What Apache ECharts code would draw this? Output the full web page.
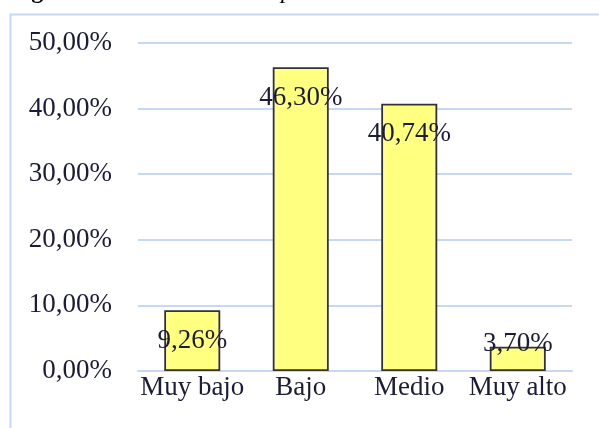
<!DOCTYPE html>
<html>
<head>
<meta charset="utf-8">
<script src="https://cdn.jsdelivr.net/npm/echarts@6/dist/echarts.min.js"></script>
<style>
html,body{margin:0;padding:0;background:#fff;}
#c{width:599px;height:428px;}
</style>
</head>
<body>
<div id="c"></div>
<script>
var categories = ['Muy bajo', 'Bajo', 'Medio', 'Muy alto'];
var values = [9.26, 46.30, 40.74, 3.70];
var yTicks = [0, 10, 20, 30, 40, 50];

var chart = echarts.init(document.getElementById('c'));
var fmt = function (v) { return v.toFixed(2).replace('.', ',') + '%'; };
var txt = '#1c1c36';
var font = '"Liberation Serif", "Times New Roman", serif';

var data = values.map(function (v, i) {
  var item = { value: v };
  if (i === values.length - 1) {
    item.label = { position: 'top', distance: -11 };
  }
  return item;
});

chart.setOption({
  animation: false,
  graphic: [
    { type: 'rect', left: 8, top: 12, shape: { width: 620, height: 440 },
      style: { fill: 'none', stroke: '#c6d8f5', lineWidth: 2 }, z: 0 },
    { type: 'text', left: 10, top: -20, style: { text: 'Figura', font: 'bold 24px ' + font, fill: '#000' } },
    { type: 'text', left: 281, top: -20, style: { text: 'por', font: 'italic 24px ' + font, fill: '#000' } }
  ],
  grid: { left: 138, right: 27, top: 43, bottom: 57, containLabel: false },
  xAxis: {
    type: 'category',
    data: categories,
    axisLine: { show: true, lineStyle: { color: '#c6d8f5', width: 2 } },
    axisTick: { show: false },
    axisLabel: { color: txt, fontFamily: font, fontSize: 27, margin: 3, interval: 0, hideOverlap: false }
  },
  yAxis: {
    type: 'value',
    min: yTicks[0],
    max: yTicks[yTicks.length - 1],
    interval: 10,
    axisLine: { show: false },
    axisTick: { show: false },
    splitLine: { lineStyle: { color: '#c6d8f5', width: 2 } },
    axisLabel: { color: txt, fontFamily: font, fontSize: 27, margin: 26, formatter: fmt }
  },
  series: [{
    type: 'bar',
    data: data,
    barWidth: 56,
    itemStyle: {
      color: {
        type: 'linear', x: 0, y: 0, x2: 1, y2: 0,
        colorStops: [
          { offset: 0, color: '#ffffa8' },
          { offset: 0.12, color: '#ffff80' },
          { offset: 0.88, color: '#ffff80' },
          { offset: 1, color: '#ffffa8' }
        ]
      },
      borderColor: '#333333',
      borderWidth: 1.8
    },
    label: {
      show: true,
      position: 'insideTop',
      distance: 17,
      color: txt,
      fontFamily: font,
      fontSize: 27,
      formatter: function (p) { return fmt(p.value); }
    }
  }]
});
</script>
</body>
</html>
